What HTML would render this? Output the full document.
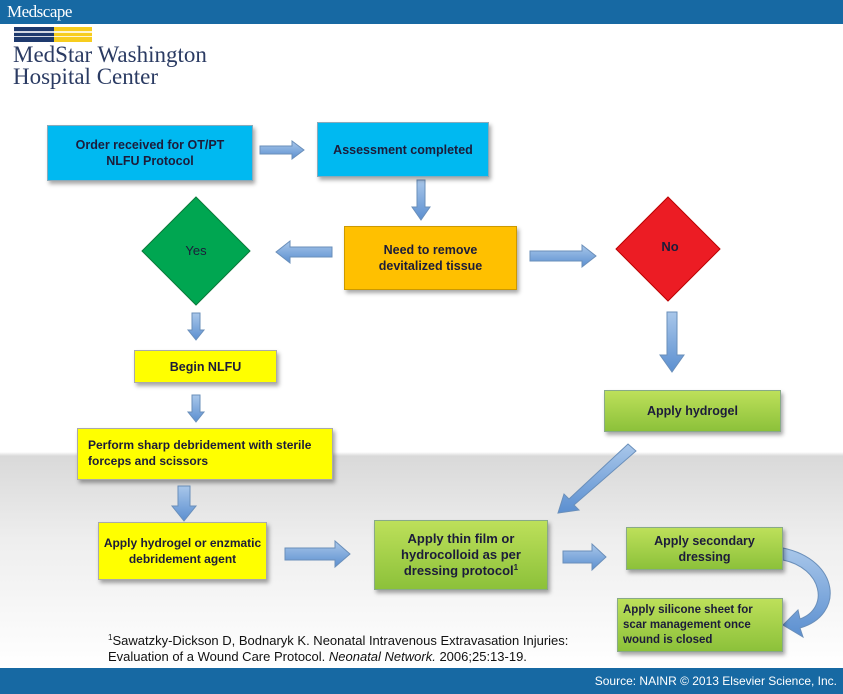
<!DOCTYPE html>
<html><head><style>
body{margin:0;width:843px;height:694px;overflow:hidden;position:relative;font-family:"Liberation Sans",Arial,sans-serif;background:linear-gradient(#fff 0,#fff 452px,#d9d9d9 456px,#eeeeee 540px,#fbfbfb 640px,#fff 668px)}
.b{position:absolute;display:flex;align-items:center;justify-content:center;text-align:center;font-weight:bold;font-size:12.5px;line-height:16px;color:#1c1c3a;box-sizing:border-box;box-shadow:2px 3px 4px rgba(0,0,0,.35);white-space:nowrap}
.cy{background:#00b9f1;border:1px solid #8ab}
.ye{background:#ffff00;border:1px solid #aaa}
.gr{background:linear-gradient(#bde05a,#8cc13a);border:1px solid #8a8}
.abs{position:absolute}
sup{font-size:8px;line-height:0;vertical-align:5px}
</style></head><body>
<div class="abs" style="left:0;top:0;width:843px;height:24px;background:#1769a3"></div>
<div class="abs" style="left:7px;top:2px;color:#fff;font-family:'Liberation Serif',serif;font-size:17px;letter-spacing:-0.5px">Medscape</div>
<div class="abs" style="left:14px;top:27px;width:40px;height:15px;background:#1e3a6e"></div>
<div class="abs" style="left:54px;top:27px;width:38px;height:15px;background:#f7cd1e"></div>
<div class="abs" style="left:14px;top:31px;width:78px;height:2px;background:#fff;opacity:.8"></div>
<div class="abs" style="left:14px;top:36px;width:78px;height:1px;background:#fff;opacity:.8"></div>
<div class="abs" style="left:13px;top:44px;color:#2b3b63;font-family:'Liberation Serif',serif;font-size:23px;line-height:22px">MedStar Washington<br>Hospital Center</div>

<svg class="abs" style="left:0;top:0" width="843" height="694">
<defs><linearGradient id="ar" x1="0" y1="0" x2="0" y2="1"><stop offset="0" stop-color="#a9c7ea"/><stop offset="1" stop-color="#5b8fd0"/></linearGradient></defs>
<g fill="url(#ar)" stroke="#6a8fba" stroke-width="1">
<polygon points="260,146 292,146 292,141 304,150 292,159 292,154 260,154"/>
<polygon points="417,180 425,180 425,207 430,207 421,220 412,207 417,207"/>
<polygon points="332,247 290,247 290,241 276,252 290,263 290,257 332,257"/>
<polygon points="530,251 582,251 582,245 596,256 582,267 582,261 530,261"/>
<polygon points="192,313 200,313 200,330 204,330 196,340 188,330 192,330"/>
<polygon points="192,395 200,395 200,412 204,412 196,422 188,412 192,412"/>
<polygon points="178,486 190,486 190,506 196,506 184,521 172,506 178,506"/>
<polygon points="285,548 335,548 335,541 350,554 335,567 335,560 285,560"/>
<polygon points="563,551 592,551 592,544 606,557 592,570 592,563 563,563"/>
<polygon points="667,312 677,312 677,355 684,355 672,372 660,355 667,355"/>
<polygon points="628,444 636,451 574,505 579,510 558,513 564,494 569,499"/>
<path d="M783,548 C840,560 845,615 800,628 L803,637 L783,625 L798,610 L800,619 C830,608 822,568 783,560 Z"/>
</g>
<polygon points="196,197 250,251 196,305 142,251" fill="#00a651" stroke="#0a7a3a"/>
<polygon points="668,197 720,249 668,301 616,249" fill="#ec1c24" stroke="#b00"/>
<text x="196" y="255" text-anchor="middle" font-size="13" fill="#1c1c3a" font-family="Liberation Sans">Yes</text>
<text x="670" y="251" text-anchor="middle" font-size="13" fill="#1c1c3a" font-weight="bold" font-family="Liberation Sans">No</text>
</svg>

<div class="b cy" style="left:47px;top:125px;width:206px;height:56px"><div>Order received for OT/PT<br>NLFU Protocol</div></div>
<div class="b cy" style="left:317px;top:122px;width:172px;height:55px"><div>Assessment completed</div></div>
<div class="b" style="left:344px;top:226px;width:173px;height:64px;background:#ffc000;border:1px solid #c90"><div>Need to remove<br>devitalized tissue</div></div>
<div class="b ye" style="left:134px;top:350px;width:143px;height:33px"><div>Begin NLFU</div></div>
<div class="b ye" style="left:77px;top:428px;width:256px;height:52px;justify-content:flex-start;text-align:left;padding-left:10px;align-items:flex-start;padding-top:8px;font-size:12px"><div>Perform sharp debridement with sterile<br>forceps and scissors</div></div>
<div class="b ye" style="left:98px;top:522px;width:169px;height:58px;font-size:12px"><div>Apply hydrogel or enzmatic<br>debridement agent</div></div>
<div class="b gr" style="left:604px;top:390px;width:177px;height:42px"><div>Apply hydrogel</div></div>
<div class="b gr" style="left:374px;top:520px;width:174px;height:70px;font-size:13px"><div>Apply thin film or<br>hydrocolloid as per<br>dressing protocol<sup>1</sup></div></div>
<div class="b gr" style="left:626px;top:527px;width:157px;height:43px"><div>Apply secondary<br>dressing</div></div>
<div class="b gr" style="left:617px;top:598px;width:166px;height:54px;font-size:11.5px;line-height:15px;justify-content:flex-start;text-align:left;padding-left:5px"><div>Apply silicone sheet for<br>scar management once<br>wound is closed</div></div>

<div class="abs" style="left:108px;top:633px;font-size:13px;line-height:16px;color:#111"><sup>1</sup>Sawatzky-Dickson D, Bodnaryk K. Neonatal Intravenous Extravasation Injuries:<br>Evaluation of a Wound Care Protocol. <i>Neonatal Network.</i> 2006;25:13-19.</div>

<div class="abs" style="left:0;top:668px;width:843px;height:26px;background:#1769a3"></div>
<div class="abs" style="right:6px;top:674px;color:#fff;font-size:12px">Source: NAINR © 2013 Elsevier Science, Inc.</div>
</body></html>
